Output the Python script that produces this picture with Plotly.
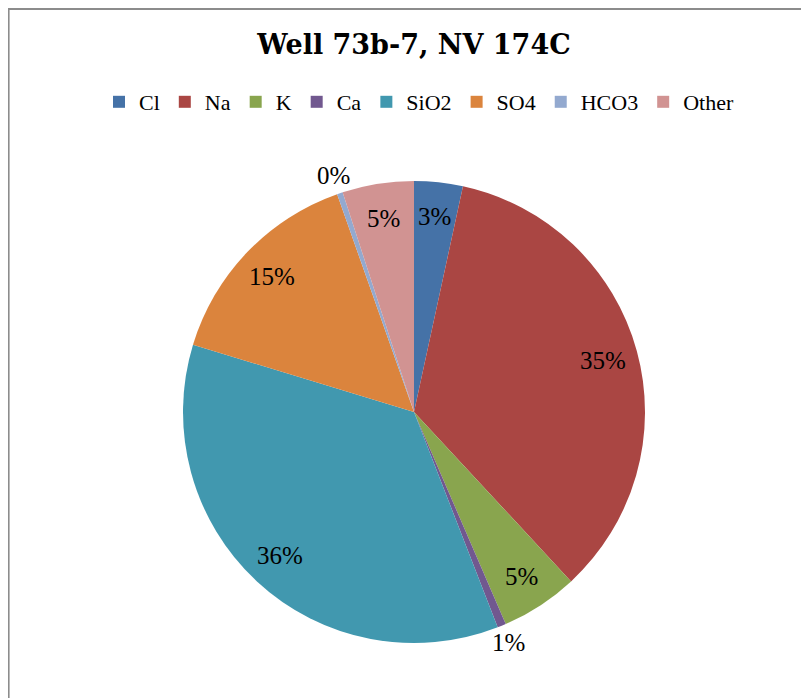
import numpy as np
import plotly.graph_objects as go

# ---- data ----
categories = ["Cl", "Na", "K", "Ca", "SiO2", "SO4", "HCO3", "Other"]
values = [3.4, 34.7, 5.4, 0.6, 35.6, 14.9, 0.4, 5.0]
colors = ["#4572A7", "#AA4643", "#89A54E", "#71588F", "#4198AF", "#DB843D", "#93A9CF", "#D19392"]
outside_labels = ["Ca", "HCO3"]
title_text = "Well 73b-7, NV 174C"

W, H = 809, 698
OFF = 8  # page body margin
CX, CY, R = 414 - OFF, 412 - OFF, 231  # pie centre/radius in figure pixels

FONT = "Liberation Serif"
TFONT = "DejaVu Serif"

fig = go.Figure(go.Pie(
    labels=categories,
    values=values,
    marker=dict(colors=colors, line=dict(width=0)),
    sort=False,
    direction="clockwise",
    rotation=0,
    textinfo="none",
    hoverinfo="label+percent",
    domain=dict(x=[(CX - R) / W, (CX + R) / W], y=[1 - (CY + R) / H, 1 - (CY - R) / H]),
))

# percentage labels placed from the data's cumulative angles
vals = np.array(values, dtype=float)
frac = vals / vals.sum()
ends = np.cumsum(frac)
mids = ends - frac / 2
annotations = []
for cat, f, m in zip(categories, frac, mids):
    theta = 2 * np.pi * m
    r = R * (1.08 if cat in outside_labels else 0.85)
    px = CX + r * np.sin(theta)
    py = CY - r * np.cos(theta)
    annotations.append(dict(
        x=px / W, y=1 - py / H, xref="paper", yref="paper",
        text=f"{round(f * 100):.0f}%", showarrow=False,
        font=dict(family=FONT, size=25, color="#000000"),
        xanchor="center", yanchor="middle",
    ))

fig.update_layout(
    width=W, height=H,
    margin=dict(l=0, r=0, t=0, b=0),
    paper_bgcolor="white",
    plot_bgcolor="white",
    title=dict(text=f"<b>{title_text}</b>", x=(414 - OFF) / W, xanchor="center",
               y=1 - (45 - OFF) / H, yanchor="middle",
               font=dict(family=TFONT, size=27, color="#000000")),
    legend=dict(orientation="h", x=(419 - OFF) / W, xanchor="center", y=1 - (102 - OFF) / H, yanchor="middle",
                font=dict(family=FONT, size=22, color="#000000"),
                itemwidth=30, itemclick=False, traceorder="normal"),
    annotations=annotations,
    shapes=[
        dict(type="line", xref="paper", yref="paper", x0=0, x1=1.01, y0=1 - 1 / H, y1=1 - 1 / H,
             line=dict(color="#8c8c8c", width=2)),
        dict(type="line", xref="paper", yref="paper", x0=0.6 / W, x1=0.6 / W, y0=-0.01, y1=1,
             line=dict(color="#8c8c8c", width=2)),
    ],
)

fig.write_html("out.html")
